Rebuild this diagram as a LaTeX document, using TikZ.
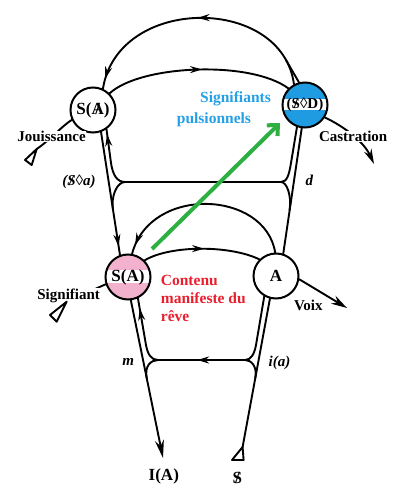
\documentclass[tikz,border=0pt]{standalone}
\usepackage{fontspec}
\setmainfont{Liberation Serif}
\usetikzlibrary{arrows.meta,decorations.markings}
\definecolor{sdblue}{RGB}{30,155,225}
\definecolor{sigblue}{RGB}{35,160,230}
\definecolor{redtxt}{RGB}{235,30,45}
\definecolor{pinkfill}{RGB}{242,178,205}
\definecolor{greenarr}{RGB}{45,175,65}
\newcommand\myBarS{\ooalign{S\cr\hidewidth/\hidewidth}}
\newcommand\myBarA{\ooalign{A\cr\hidewidth/\hidewidth}}
\begin{document}
\begin{tikzpicture}[x=1pt,y=-1pt,
 ln/.style={line width=1.9pt,line cap=round,line join=round},
 circ/.style={circle,draw,line width=2pt,minimum size=45pt,inner sep=0pt,font=\fontsize{17}{17}\selectfont\bfseries},
 mk/.style={postaction={decorate,decoration={markings,mark=at position #1 with {\arrow{Stealth[length=12pt,width=7pt]}}}}},
 lab/.style={font=\fontsize{15}{15}\selectfont\bfseries,inner sep=0.5pt,anchor=base west},
 ilab/.style={font=\fontsize{15}{15}\selectfont\bfseries\itshape,inner sep=0.5pt,anchor=base west},
 ctext/.style={font=\fontsize{15.5}{15.5}\selectfont\bfseries,inner sep=0pt,anchor=base west},
 band/.style 2 args={path picture={\fill[white] ([yshift=#1]path picture bounding box.west) rectangle ([yshift=#2]path picture bounding box.east);}}
]
\useasboundingbox (0,0) rectangle (401,500);
\fill[white] (0,0) rectangle (401,500);
% circles
\node[circ,fill=white] (sA) at (93,110) {S(\myBarA)};
\node[circ,fill=sdblue,band={6pt}{-5pt}] (sD) at (305,105) {};
\node[font=\fontsize{15}{15}\selectfont\bfseries,inner sep=0pt] (sDt) at (sD.center) {(\myBarS◊D)};
\node[circ,fill=pinkfill,band={7pt}{-6pt}] (sa) at (128,277) {};
\node[font=\fontsize{17}{17}\selectfont\bfseries,inner sep=0pt] (sat) at (sa.center) {S(A)};
\node[circ,fill=white] (aA) at (276,276) {A};
% coordinates
\coordinate (ul1) at (111,163);
\coordinate (uh1) at (125,182);
\coordinate (uh2) at (281,182);
\coordinate (ur1) at (291,163);
\coordinate (ulm) at (113,210);
\coordinate (urm) at (289.6,210);
\coordinate (ll1) at (146,345);
\coordinate (lh1) at (158,360);
\coordinate (lh2) at (245,360);
\coordinate (lr1) at (256,345);
\coordinate (llm) at (146.7,378);
\coordinate (lrm) at (255.3,378);
\coordinate (jt) at (36.7,149);
\coordinate (jt1) at (25,160);
\coordinate (jt2) at (31.7,165);
\coordinate (st) at (66.7,301.7);
\coordinate (st1) at (50,315);
\coordinate (st2) at (56.7,321.7);
\coordinate (bt) at (242.6,447);
\coordinate (bt1) at (232,460);
\coordinate (bt2) at (243.6,460);
\coordinate (iaend) at (163,458);
\coordinate (castend) at (374,164);
\coordinate (voixend) at (347,308);
\coordinate (vtop) at (286.3,60.5);
\coordinate (gs) at (152,249);
\coordinate (ge) at (280,123);
% upper level
\draw[ln,mk=0.5,mk=0.96] (sD.118) .. controls (282,-5) and (118,-5) .. (sA.65);
\draw[ln] (vtop) -- (sD.105);
\draw[ln,mk=0.52] (sA.45) .. controls (140,65) and (250,60) .. (sD.135);
\draw[ln,mk=0.93] (sA.290) -- (sa.110);
\draw[ln] (sD.250) -- (ur1) .. controls (289,175) and (287,182) .. (uh2) -- (uh1) .. controls (117,182) and (112.8,175) .. (ul1);
\draw[ln,mk=0.85] (ul1) -- (sA.305);
\draw[ln] (uh1) .. controls (117,182) and (110.8,196) .. (ulm);
\draw[ln] (uh2) .. controls (287,182) and (291.7,196) .. (urm);
\draw[ln] (sD.262) -- (aA.72);
% middle arcs
\draw[ln,mk=0.95] (aA.92) .. controls (265,190) and (150,185) .. (sa.80);
\draw[ln,mk=0.52] (sa.45) .. controls (170,245) and (230,245) .. (aA.135);
% lower level
\draw[ln,-{Stealth[length=18pt,width=9pt]}] (sa.277) -- (iaend);
\draw[ln] (aA.240) -- (lr1) .. controls (254.4,354) and (251,360) .. (lh2);
\draw[ln,mk=0.55] (lh2) -- (lh1);
\draw[ln] (lh1) .. controls (151,360) and (147.6,354) .. (ll1);
\draw[ln,mk=0.78] (ll1) -- (sa.295);
\draw[ln] (lh1) .. controls (151,360) and (144.3,366) .. (llm);
\draw[ln] (lh2) .. controls (251,360) and (257.5,366) .. (lrm);
\draw[ln] (bt) -- (aA.255);
% in/out vectors
\draw[ln] (jt) .. controls (50,140) and (62,126) .. (sA.205);
\draw[ln] (st) -- (sa.198);
\draw[ln,-{Stealth[length=15pt,width=8pt]}] (sD.-32) .. controls (345,127) and (364,142) .. (castend);
\draw[ln,-{Stealth[length=16pt,width=9pt]}] (aA.-8) -- (voixend);
% labels
\node[lab,fill=white] (jou) at (16.7,141.7) {Jouissance};
\node[lab,fill=white] (cas) at (318.3,141.7) {Castration};
\node[lab,fill=white] (sig) at (36.7,299.3) {Signifiant};
\node[lab] (voix) at (293.3,310) {Voix};
\node[ilab] (soa) at (61.7,185) {(\myBarS◊a)};
\node[ilab] (dd) at (305,185) {d};
\node[ilab] (mm) at (121.7,365) {m};
\node[ilab] (ia) at (268,366) {i(a)};
\node[lab,font=\fontsize{17}{17}\selectfont\bfseries] (IA) at (148,480) {I(A)};
\node[lab,font=\fontsize{17}{17}\selectfont\bfseries] (bs) at (232,483) {\myBarS};
% triangles
\draw[ln] (jt) -- (jt1) -- (jt2) -- cycle;
\draw[ln] (st) -- (st1) -- (st2) -- cycle;
\draw[ln] (bt) -- (bt1) -- (bt2) -- cycle;
% coloured annotations
\node[ctext,text=sigblue] (sg1) at (200,102.7) {Signifiants};
\node[ctext,text=sigblue] (sg2) at (176.7,124) {pulsionnels};
\node[ctext,text=redtxt] (c1) at (160.7,285) {Contenu};
\node[ctext,text=redtxt] (c2) at (160.7,303.3) {manifeste du};
\node[ctext,text=redtxt] (c3) at (160.7,321) {rêve};
\draw[greenarr,line width=4pt,-{Straight Barb[length=8pt,width=15pt]}] (gs) -- (ge);
\end{tikzpicture}
\end{document}
